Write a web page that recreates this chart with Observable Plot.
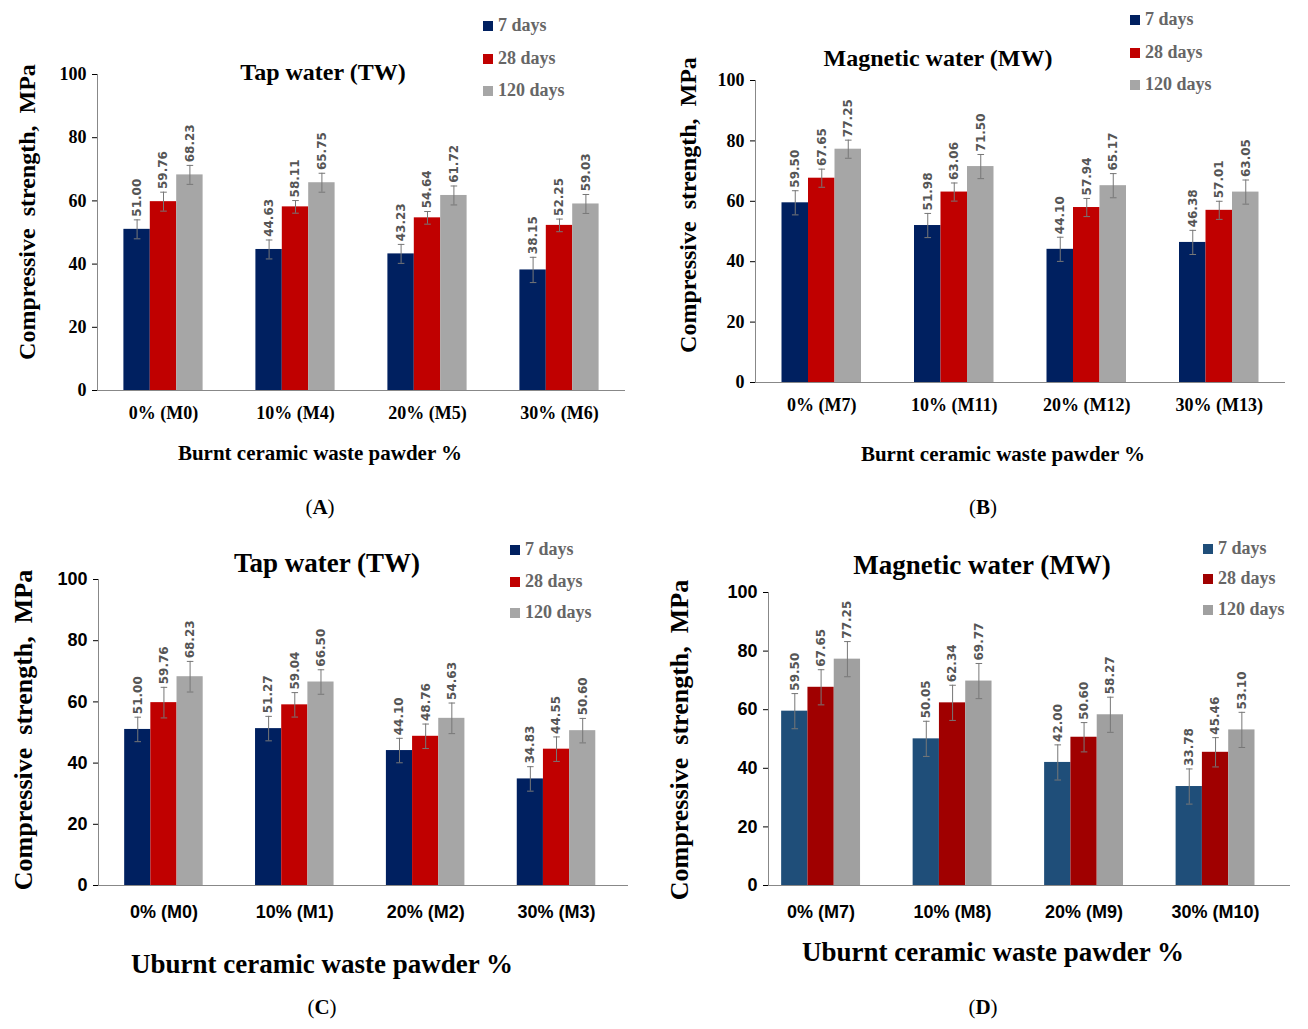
<!DOCTYPE html>
<html><head><meta charset="utf-8">
<script src="https://cdn.jsdelivr.net/npm/d3@7"></script>
<script src="https://cdn.jsdelivr.net/npm/@observablehq/plot@0.6"></script>
<style>
body{margin:0;background:#fff;width:1308px;height:1029px;position:relative;overflow:hidden;font-family:"Liberation Serif",serif}
.a{position:absolute;white-space:nowrap}
.ttl{font-weight:bold;transform:translate(-50%,-50%)}
.leg{font-weight:bold;color:#666;font-size:18px}
.leg span{display:inline-block;width:10px;height:10px;margin-right:5px}
.yl{font-weight:bold;transform:translate(-50%,-50%) rotate(-90deg)}
</style></head><body>
<script>
const seriesNames = ["7 days","28 days","120 days"];
const groupsA = ["0% (M0)","10% (M4)","20% (M5)","30% (M6)"];
const groupsB = ["0% (M7)","10% (M11)","20% (M12)","30% (M13)"];
const groupsC = ["0% (M0)","10% (M1)","20% (M2)","30% (M3)"];
const groupsD = ["0% (M7)","10% (M8)","20% (M9)","30% (M10)"];
const valsA = [[51.00,44.63,43.23,38.15],[59.76,58.11,54.64,52.25],[68.23,65.75,61.72,59.03]];
const errA  = [[3,3,3,4],[3,2,2,2],[3,3,3,3]];
const valsB = [[59.50,51.98,44.10,46.38],[67.65,63.06,57.94,57.01],[77.25,71.50,65.17,63.05]];
const errB  = [[4,4,4,4],[3,3,3,3],[3,4,4,4]];
const valsC = [[51.00,51.27,44.10,34.83],[59.76,59.04,48.76,44.55],[68.23,66.50,54.63,50.60]];
const errC  = [[4,4,4,4],[5,4,4,4],[5,4,5,4]];
const valsD = [[59.50,50.05,42.00,33.78],[67.65,62.34,50.60,45.46],[77.25,69.77,58.27,53.10]];
const errD  = [[6,6,6,6],[6,6,5,5],[6,6,6,6]];
const colorsABC = ["#002060","#c00000","#a6a6a6"];
const colorsD = ["#1f4e79","#a00000","#a0a0a0"];

function add(html, css, cls){const d=document.createElement("div");d.className="a "+(cls||"");d.innerHTML=html;Object.assign(d.style,css);document.body.appendChild(d);return d;}

function panel(p){
  const rows=[];
  p.vals.forEach((s,si)=>s.forEach((v,gi)=>rows.push({g:gi,s:si,v,e:p.err[si][gi],x:gi+(si-1)*0.2})));
  const W=p.R-p.L, H=p.B-p.T;
  const fig=Plot.plot({
    width:W+90,height:H+70,marginLeft:80,marginRight:10,marginTop:20,marginBottom:50,
    style:{fontFamily:p.tickFont,fontSize:p.tickSize+"px",fontWeight:"bold",color:"#000",background:"transparent"},
    x:{domain:p.dom,axis:null},
    y:{domain:[0,100],axis:null},
    marks:[
      Plot.rectY(rows,{x1:d=>d.x-0.1,x2:d=>d.x+0.1,y:"v",fill:d=>p.colors[d.s]}),
      Plot.ruleX(rows,{x:"x",y1:d=>d.v-d.e,y2:d=>d.v+d.e,stroke:"#777",strokeWidth:1}),
      Plot.link(rows,{x1:d=>d.x-0.025,x2:d=>d.x+0.025,y1:d=>d.v+d.e,y2:d=>d.v+d.e,stroke:"#777"}),
      Plot.link(rows,{x1:d=>d.x-0.025,x2:d=>d.x+0.025,y1:d=>d.v-d.e,y2:d=>d.v-d.e,stroke:"#777"}),
      Plot.text(rows,{x:"x",y:d=>d.v+d.e+1,text:d=>d.v.toFixed(2),rotate:-90,textAnchor:"start",fill:"#555",fontSize:12,fontFamily:"DejaVu Sans",fontWeight:"bold"}),
      Plot.ruleY([0],{stroke:"#888"}),
      Plot.ruleX([p.dom[0]],{stroke:"#888"}),
      Plot.axisY({ticks:[0,20,40,60,80,100],tickSize:5,label:null,tickPadding:6}),
      Plot.axisX({ticks:[0,1,2,3],tickFormat:i=>p.groups[i],tickSize:0,tickPadding:p.tickPad,label:null})
    ]
  });
  fig.style.position="absolute";fig.style.left=(p.L-80)+"px";fig.style.top=(p.T-20)+"px";
  document.body.appendChild(fig);
  add(p.title,{left:p.tx+"px",top:p.ty+"px",fontSize:p.tsz+"px"},"ttl");
  seriesNames.forEach((n,i)=>add(`<span style="background:${p.colors[i]}"></span>${n}`,{left:p.lx+"px",top:(p.ly[i]-12)+"px"},"leg"));
  add(p.xlab,{left:p.xlx+"px",top:p.xly+"px",fontSize:p.xsz+"px"},"ttl");
  add(p.tag,{left:p.tgx+"px",top:p.tgy+"px",fontSize:"21px",fontWeight:"normal"},"ttl");
  add("Compressive&nbsp; strength,&nbsp; MPa",{left:p.ylx+"px",top:p.yly+"px",fontSize:p.ysz+"px"},"yl");
}
const serif='"Liberation Serif",serif', sans='"Liberation Sans",Arial,sans-serif';
panel({L:97,R:625,T:74,B:390,dom:[-0.5,3.5],vals:valsA,err:errA,groups:groupsA,colors:colorsABC,tickFont:serif,tickSize:18,tickPad:16,
  title:"Tap water (TW)",tx:323,ty:72,tsz:24,lx:483,ly:[27,60,92],xlab:"Burnt ceramic waste pawder %",xlx:320,xly:453,xsz:21,tag:"(<b>A</b>)",tgx:320,tgy:507,ylx:27,yly:212,ysz:24});
panel({L:755,R:1285,T:80,B:382,dom:[-0.5,3.5],vals:valsB,err:errB,groups:groupsB,colors:colorsABC,tickFont:serif,tickSize:18,tickPad:16,
  title:"Magnetic water (MW)",tx:938,ty:58,tsz:24,lx:1130,ly:[21,54,86],xlab:"Burnt ceramic waste pawder %",xlx:1003,xly:454,xsz:21,tag:"(<b>B</b>)",tgx:983,tgy:507,ylx:688,yly:205,ysz:24});
panel({L:98,R:628,T:579,B:885,dom:[-0.5,3.55],vals:valsC,err:errC,groups:groupsC,colors:colorsABC,tickFont:sans,tickSize:18,tickPad:20,
  title:"Tap water (TW)",tx:327,ty:563,tsz:27,lx:510,ly:[551,583,614],xlab:"Uburnt ceramic waste pawder %",xlx:322,xly:964,xsz:27,tag:"(<b>C</b>)",tgx:322,tgy:1007,ylx:24,yly:730,ysz:26});
panel({L:768,R:1290,T:592,B:885,dom:[-0.4,3.57],vals:valsD,err:errD,groups:groupsD,colors:colorsD,tickFont:sans,tickSize:18,tickPad:20,
  title:"Magnetic water (MW)",tx:982,ty:565,tsz:27,lx:1203,ly:[550,580,611],xlab:"Uburnt ceramic waste pawder %",xlx:993,xly:952,xsz:27,tag:"(<b>D</b>)",tgx:983,tgy:1007,ylx:680,yly:740,ysz:26});
</script>
</body></html>
